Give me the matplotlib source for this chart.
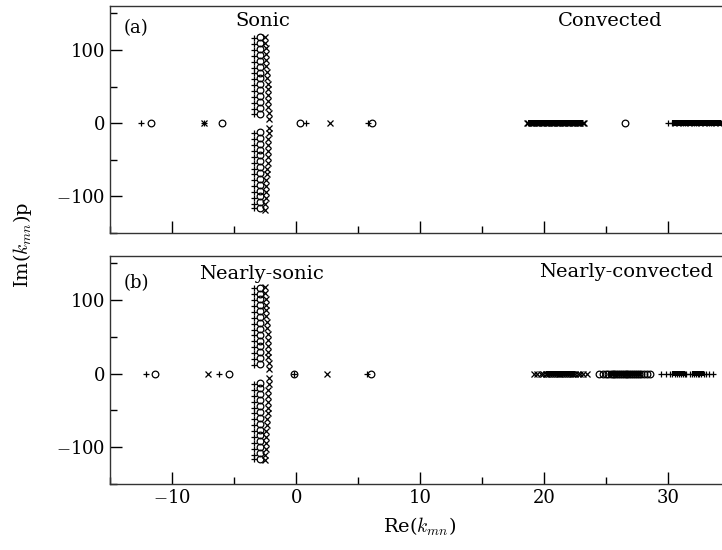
import numpy as np
import matplotlib
matplotlib.use("Agg")
import matplotlib.pyplot as plt
from matplotlib.ticker import MultipleLocator

plt.rcParams['font.family'] = ['DejaVu Serif']
plt.rcParams['mathtext.fontset'] = 'cm'

# ---------------- data: panel (a) sonic / convected ----------------
a_plus_re = [-12.5, -7.4, 0.8, 5.8]
a_circ_re = [-11.7, -5.95, 0.3, 6.1]
a_cross_re = [-7.4, 2.7]

# vertical sonic columns (Im values, upper and lower)
col_plus_im = [116, 108, 100, 92, 84, 76, 68, 60, 52, 44, 36, 28, 20, 12,
               -14, -22, -30, -38, -46, -54, -62, -70, -78, -86, -94, -102, -110, -116]
col_circ_im = [117, 109, 101, 93, 85, 77, 69, 61, 53, 45, 37, 29, 21, 13,
               -12, -20, -28, -36, -44, -52, -60, -68, -76, -84, -92, -100, -108, -116]
col_cross_im = [118, 110, 102, 94, 86, 78, 70, 62, 54, 46, 38, 30, 22, 14, 6,
                -6, -14, -22, -30, -38, -46, -54, -62, -70, -78, -86, -94, -102, -110, -118]
col_plus_re = -3.4
col_circ_re = -2.9
col_cross_re = [-2.5, -2.5, -2.45, -2.45, -2.4, -2.4, -2.35, -2.35, -2.3, -2.3, -2.3, -2.25, -2.25, -2.2, -2.2,
                -2.2, -2.2, -2.25, -2.25, -2.3, -2.3, -2.3, -2.35, -2.35, -2.4, -2.4, -2.45, -2.45, -2.5, -2.5]

a_conv_cross_re = [18.6, 18.7, 18.9, 19.0, 19.2, 19.3, 19.5, 19.6, 19.8, 19.9, 20.1, 20.2, 20.4, 20.5,
                   20.7, 20.8, 21.0, 21.1, 21.3, 21.4, 21.6, 21.7, 21.9, 22.0, 22.2, 22.3, 22.5, 22.6,
                   22.8, 22.9, 23.1, 23.2]
a_conv_circ_re = [26.5]
a_conv_plus_re = [30.0, 30.3, 30.4, 30.6, 30.7, 30.9, 31.0, 31.2, 31.3, 31.5, 31.6, 31.8, 31.9, 32.1,
                  32.2, 32.4, 32.5, 32.7, 32.8, 33.0, 33.1, 33.3, 33.4, 33.6, 33.7, 33.9, 34.0, 34.2]

# ---------------- data: panel (b) nearly-sonic / nearly-convected ----------------
b_plus_re = [-12.1, -6.2, -0.2, 5.7]
b_circ_re = [-11.4, -5.4, -0.15, 6.0]
b_cross_re = [-7.1, 2.5]

b_conv_cross_re = [19.2, 19.45, 19.7, 19.9, 20.1, 20.25, 20.4, 20.55, 20.7, 20.85, 21.0, 21.15, 21.3,
                   21.45, 21.6, 21.75, 21.9, 22.05, 22.2, 22.35, 22.5, 22.7, 22.9, 23.1, 23.4]
b_conv_circ_re = [24.4, 24.7, 24.95, 25.15, 25.35, 25.5, 25.65, 25.8, 25.95, 26.1, 26.25, 26.4, 26.55,
                  26.7, 26.85, 27.0, 27.15, 27.3, 27.45, 27.6, 27.8, 28.0, 28.25, 28.5]
b_conv_plus_re = [29.4, 29.8, 30.1, 30.3, 30.5, 30.7, 30.85, 31.0, 31.15, 31.3, 31.45, 31.75, 31.9,
                  32.05, 32.2, 32.35, 32.5, 32.65, 32.85, 33.05, 33.3, 33.6]

# ==========================================================
# PLOT
# ==========================================================
fig = plt.figure(figsize=(7.22, 5.50), dpi=100)

left = 110 / 722
width = 1.0 - left + 0.01
ax1 = fig.add_axes([left, 1 - 233 / 550, width, (233 - 6) / 550])
ax2 = fig.add_axes([left, 1 - 484 / 550, width, (484 - 256) / 550])

ms = 4.8
mk_plus = dict(marker='+', color='black', linestyle='none', markersize=ms, markeredgewidth=0.9)
mk_cross = dict(marker='x', color='black', linestyle='none', markersize=ms - 0.6, markeredgewidth=0.9)
mk_circ = dict(marker='o', markerfacecolor='none', markeredgecolor='black', linestyle='none',
               markersize=ms, markeredgewidth=0.9)


def draw_columns(ax):
    ax.plot([col_plus_re] * len(col_plus_im), col_plus_im, **mk_plus)
    ax.plot([col_circ_re] * len(col_circ_im), col_circ_im, **mk_circ)
    ax.plot(col_cross_re, col_cross_im, **mk_cross)


def draw_bar(ax, xs, h):
    # dense accumulation of roots drawn as a solid strip
    ax.fill_between([min(xs), max(xs)], -h, h, color='black', linewidth=0, zorder=3)


def zeros(v):
    return np.zeros(len(v))


# panel (a)
draw_columns(ax1)
ax1.plot(a_plus_re, zeros(a_plus_re), **mk_plus)
ax1.plot(a_circ_re, zeros(a_circ_re), **mk_circ)
ax1.plot(a_cross_re, zeros(a_cross_re), **mk_cross)
ax1.plot(a_conv_cross_re, zeros(a_conv_cross_re), **mk_cross)
draw_bar(ax1, a_conv_cross_re[1:-1], 4.3)
ax1.plot(a_conv_circ_re, zeros(a_conv_circ_re), **mk_circ)
ax1.plot(a_conv_plus_re, zeros(a_conv_plus_re), **mk_plus)
draw_bar(ax1, a_conv_plus_re[1:], 4.3)

# panel (b)
draw_columns(ax2)
ax2.plot(b_plus_re, zeros(b_plus_re), **mk_plus)
ax2.plot(b_circ_re, zeros(b_circ_re), **mk_circ)
ax2.plot(b_cross_re, zeros(b_cross_re), **mk_cross)
ax2.plot(b_conv_cross_re, zeros(b_conv_cross_re), **mk_cross)
draw_bar(ax2, b_conv_cross_re[4:-4], 3.0)
ax2.plot(b_conv_circ_re, zeros(b_conv_circ_re), **mk_circ)
draw_bar(ax2, b_conv_circ_re[3:-3], 3.0)
ax2.plot(b_conv_plus_re, zeros(b_conv_plus_re), **mk_plus)
draw_bar(ax2, b_conv_plus_re[3:10], 3.0)
draw_bar(ax2, b_conv_plus_re[12:-3], 3.0)

for ax in (ax1, ax2):
    ax.set_xlim(-15, 34.9)
    ax.set_ylim(-150, 160)
    ax.xaxis.set_major_locator(MultipleLocator(10))
    ax.xaxis.set_minor_locator(MultipleLocator(5))
    ax.yaxis.set_major_locator(MultipleLocator(100))
    ax.yaxis.set_minor_locator(MultipleLocator(50))
    ax.tick_params(which='both', direction='in', top=False, right=False, labelsize=13, width=1.0)
    ax.tick_params(which='major', length=8.5)
    ax.tick_params(which='minor', length=5)
    for s in ax.spines.values():
        s.set_linewidth(1.0)
        s.set_color('#333333')
    ax.spines['right'].set_visible(False)

ax1.tick_params(labelbottom=False)
ax1.set_yticks([-100, 0, 100])
ax1.set_yticklabels(['$-$100', '0', '100'])
ax2.set_yticks([-100, 0, 100])
ax2.set_yticklabels(['$-$100', '0', '100'])
ax2.set_xticks([-10, 0, 10, 20, 30])
ax2.set_xticklabels(['$-$10', '0', '10', '20', '30'])

ax1.text(-12.9, 130, '(a)', fontsize=13, ha='center', va='center')
ax1.text(-2.7, 140, 'Sonic', fontsize=14, ha='center', va='center')
ax1.text(25.3, 140, 'Convected', fontsize=14, ha='center', va='center')

ax2.text(-12.9, 123, '(b)', fontsize=13, ha='center', va='center')
ax2.text(-2.8, 136, 'Nearly-sonic', fontsize=14, ha='center', va='center')
ax2.text(26.6, 138, 'Nearly-convected', fontsize=14, ha='center', va='center')

ax2.set_xlabel('Re($k_{mn}$)', fontsize=14, labelpad=6)
fig.text(22 / 722, 1 - 245 / 550, 'Im($k_{mn}$)p', fontsize=14, rotation=90, ha='center', va='center')

fig.savefig('out.png', dpi=100)
